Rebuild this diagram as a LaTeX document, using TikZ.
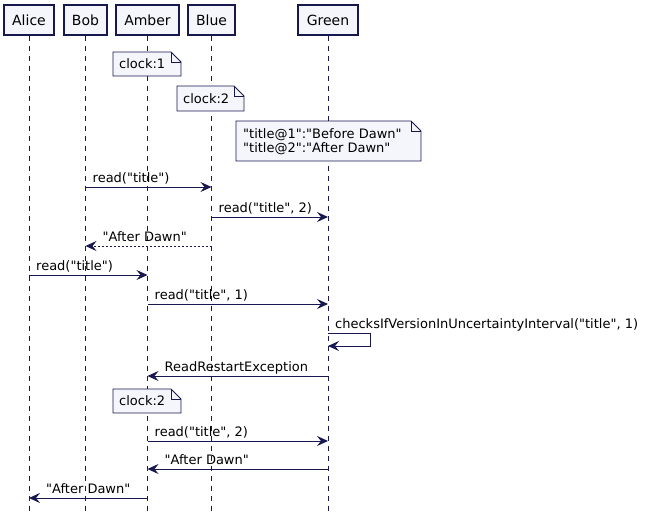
\documentclass[tikz,border=0pt]{standalone}
\usepackage{fontspec}
\setmainfont{DejaVu Sans}[Ligatures=TeXOff]
\usetikzlibrary{arrows.meta,calc}
\definecolor{boxfill}{HTML}{F4F6FC}
\definecolor{ink}{HTML}{181850}
\newcommand\mynote[4]{%
  \filldraw[draw=ink, fill=boxfill, line width=0.8pt] (#1,#2) -- (#3-10,#2) -- (#3,#2+10) -- (#3,#4) -- (#1,#4) -- cycle;
  \draw[ink, line width=0.8pt] (#3-10,#2) -- (#3-10,#2+10) -- (#3,#2+10);}
\begin{document}
\begin{tikzpicture}[x=1pt,y=-1pt,
  part/.style={draw=ink, fill=boxfill, line width=1.2pt, minimum height=30pt, inner sep=0pt, font=\fontsize{14}{16}\selectfont},
  life/.style={draw=ink, line width=0.8pt, dash pattern=on 5pt off 5pt},
  msg/.style={draw=ink, line width=1pt, -{Stealth[length=11pt,width=10pt,inset=4pt]}},
  ret/.style={msg, dash pattern=on 2pt off 2pt},
  lbl/.style={anchor=base west, inner sep=0pt, font=\fontsize{13}{15}\selectfont, text=black},
  ntxt/.style={anchor=west, inner sep=0pt, align=left, font=\fontsize{13}{15}\selectfont, text=black}
]
\useasboundingbox (0,0) rectangle (646,522);
% participants
\node[part, minimum width=50pt] (alice) at (29,20) {Alice};
\node[part, minimum width=43pt] (bob) at (85.5,20) {Bob};
\node[part, minimum width=63pt] (amber) at (147.5,20) {Amber};
\node[part, minimum width=47pt] (blue) at (211.5,20) {Blue};
\node[part, minimum width=60pt] (green) at (328,20) {Green};
% lifelines
\foreach \p in {alice,bob,amber,blue,green}{
  \coordinate (\p end) at (\p |- 0,512);
  \draw[life] (\p.south) -- (\p end);
}
% notes
\mynote{113}{52}{181}{76}
\node[ntxt] (n1) at (119,64) {clock:1};
\mynote{177}{86}{244}{111}
\node[ntxt] (n2) at (183,98.5) {clock:2};
\mynote{236}{121}{421}{161}
\node[ntxt] (n3) at (243,141.5) {"title@1":"Before Dawn"\\[-1pt]"title@2":"After Dawn"};
% messages
\draw[msg] (bob |- 0,187) -- (blue |- 0,187);
\node[lbl, xshift=7pt] (l1) at (bob |- 0,182) {read("title")};
\draw[msg] (blue |- 0,217) -- (green |- 0,217);
\node[lbl, xshift=7pt] (l2) at (blue |- 0,212) {read("title", 2)};
\draw[ret] (blue |- 0,246) -- (bob |- 0,246);
\node[lbl, xshift=17pt] (l3) at (bob |- 0,241) {"After Dawn"};
\draw[msg] (alice |- 0,275) -- (amber |- 0,275);
\node[lbl, xshift=7pt] (l4) at (alice |- 0,270) {read("title")};
\draw[msg] (amber |- 0,304) -- (green |- 0,304);
\node[lbl, xshift=7pt] (l5) at (amber |- 0,299) {read("title", 1)};
\coordinate (selfa) at (370,333);
\coordinate (selfb) at (370,346);
\draw[msg] (green |- 0,333) -- (selfa) -- (selfb) -- (green |- 0,346);
\node[lbl, xshift=7pt] (l6) at (green |- 0,328) {checksIfVersionInUncertaintyInterval("title", 1)};
\draw[msg] (green |- 0,376) -- (amber |- 0,376);
\node[lbl, xshift=17pt] (l7) at (amber |- 0,371) {ReadRestartException};
\mynote{113}{389}{181}{413}
\node[ntxt] (n4) at (119,401) {clock:2};
\draw[msg] (amber |- 0,441) -- (green |- 0,441);
\node[lbl, xshift=7pt] (l8) at (amber |- 0,436) {read("title", 2)};
\draw[msg] (green |- 0,469) -- (amber |- 0,469);
\node[lbl, xshift=17pt] (l9) at (amber |- 0,464) {"After Dawn"};
\draw[msg] (amber |- 0,498) -- (alice |- 0,498);
\node[lbl, xshift=17pt] (l10) at (alice |- 0,493) {"After Dawn"};
\end{tikzpicture}
\end{document}
